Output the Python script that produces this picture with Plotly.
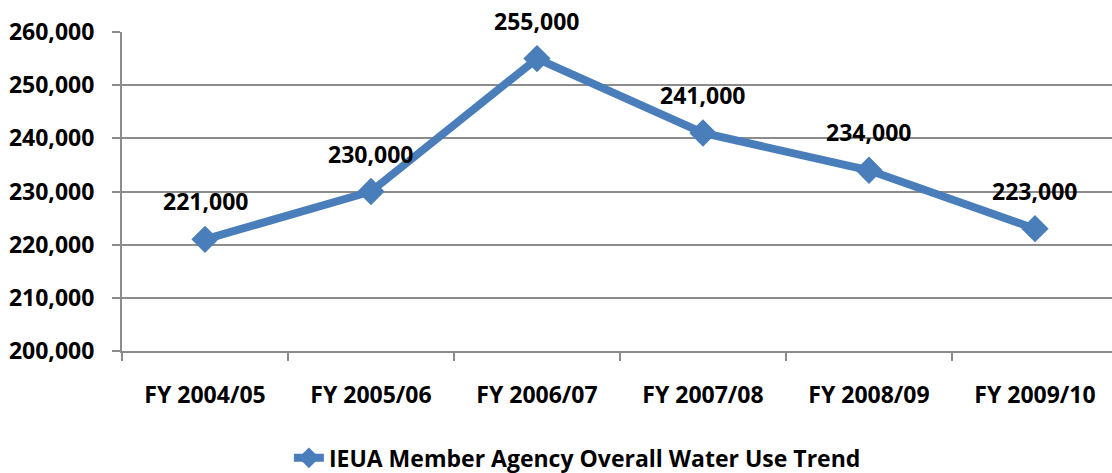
import plotly.graph_objects as go

years = ['FY 2004/05', 'FY 2005/06', 'FY 2006/07', 'FY 2007/08', 'FY 2008/09', 'FY 2009/10']
water_use = [221000, 230000, 255000, 241000, 234000, 223000]
series_name = 'IEUA Member Agency Overall Water Use Trend'

blue = '#4A7EBB'
grid = '#8C8C8C'
font = dict(family='Open Sans', size=23, color='black', weight='bold')

fig = go.Figure()
fig.add_trace(go.Scatter(
    x=years, y=water_use, name=series_name, mode='lines+markers',
    line=dict(color=blue, width=8),
    marker=dict(symbol='diamond', size=21, color=blue),
    cliponaxis=False,
))

# value labels above each point
for yr, v in zip(years, water_use):
    fig.add_annotation(x=yr, y=v, text=f'{v:,}', showarrow=False,
                       yshift=38, font=font)

fig.update_layout(
    width=1112, height=473,
    margin=dict(l=122, r=0, t=32, b=122, autoexpand=False),
    plot_bgcolor='white', paper_bgcolor='white',
    font=font,
    showlegend=True,
    legend=dict(orientation='h', x=0.46, xanchor='center', y=-0.335, yanchor='middle',
                font=font),
)
fig.update_xaxes(
    range=[-0.5, 5.464], showgrid=False, showline=True, linecolor=grid, linewidth=2,
    ticks='outside', tickson='boundaries', ticklen=8, tickcolor=grid, tickwidth=2,
    ticklabelstandoff=22, tickfont=font, automargin=False,
)
fig.update_yaxes(
    range=[200000, 260000], dtick=10000, tickformat=',d',
    showgrid=True, gridcolor=grid, gridwidth=2,
    showline=True, linecolor=grid, linewidth=2,
    ticks='outside', ticklen=8, tickcolor=grid, tickwidth=2,
    ticklabelstandoff=13, tickfont=font, zeroline=False, automargin=False,
)

fig.write_html('out.html', config={'displayModeBar': False},
               post_script="document.body.style.margin='0';")
